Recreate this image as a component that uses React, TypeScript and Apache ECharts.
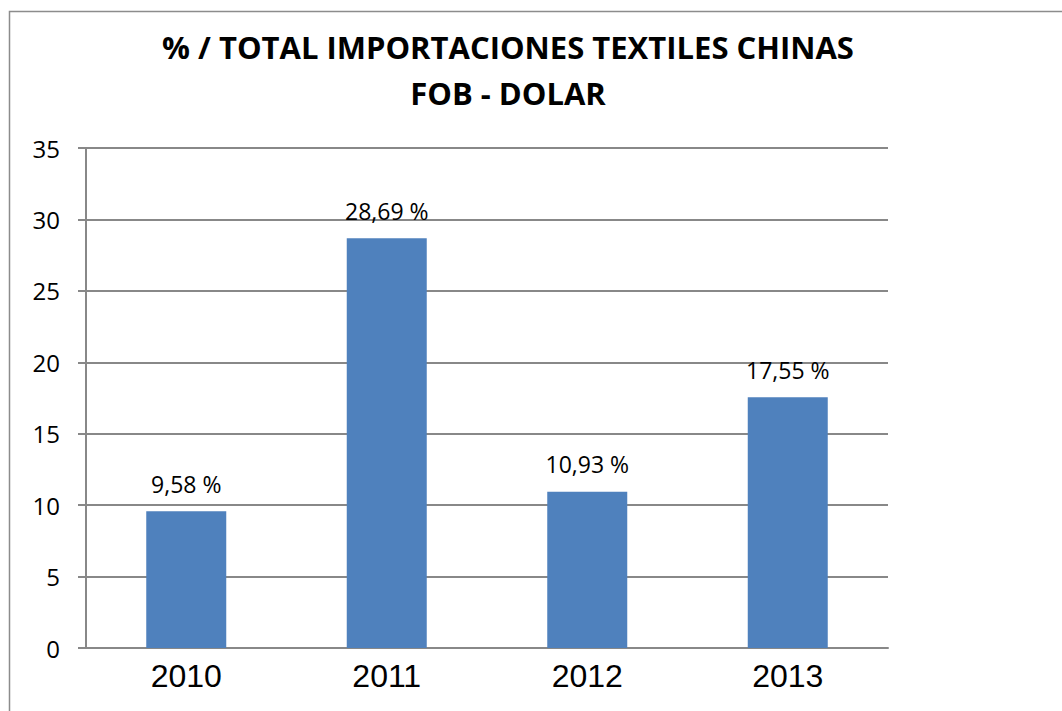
import React, { useEffect, useRef } from "react";
import * as echarts from "echarts";

const categories = ["2010", "2011", "2012", "2013"];
const values = [9.58, 28.69, 10.93, 17.55];
const titleLines = ["% / TOTAL IMPORTACIONES TEXTILES CHINAS", "FOB - DOLAR"];

export default function App() {
  const ref = useRef<HTMLDivElement>(null);
  useEffect(() => {
    if (!ref.current) return;
    const chart = echarts.init(ref.current, null, { renderer: "svg" });
    chart.setOption({
      animation: false,
      backgroundColor: "#ffffff",
      title: {
        text: titleLines.join("\n"),
        left: 503,
        textAlign: "center",
        top: 19,
        textStyle: {
          fontFamily: "Open Sans",
          fontWeight: "bold",
          fontSize: 31,
          lineHeight: 46,
          color: "#000",
        },
      },
      graphic: [
        {
          type: "rect",
          shape: { x: 9.5, y: 11.5, width: 1100, height: 800 },
          style: { fill: "none", stroke: "#8c8c8c", lineWidth: 1.5 },
          silent: true,
          z: -1,
        },
      ],
      grid: { left: 86, right: 174, top: 148, bottom: 63, containLabel: false },
      xAxis: {
        type: "category",
        data: categories,
        axisLine: { show: true, lineStyle: { color: "#888", width: 2 } },
        axisTick: { show: false },
        axisLabel: {
          fontFamily: "Liberation Sans",
          fontSize: 32,
          color: "#000",
          margin: 12,
        },
      },
      yAxis: {
        type: "value",
        min: 0,
        max: 35,
        interval: 5,
        axisLine: { show: true, lineStyle: { color: "#888", width: 2 } },
        axisTick: { show: true, length: 8, lineStyle: { color: "#888", width: 2 } },
        axisLabel: {
          fontFamily: "Open Sans",
          fontSize: 24,
          color: "#000",
          margin: 26,
        },
        splitLine: { show: true, lineStyle: { color: "#888", width: 2 } },
      },
      series: [
        {
          type: "bar",
          data: values,
          barWidth: 80,
          itemStyle: { color: "#4F81BD" },
          label: {
            show: true,
            position: "top",
            distance: 16,
            formatter: (p: any) => p.value.toFixed(2).replace(".", ",") + " %",
            fontFamily: "Open Sans",
            fontSize: 23,
            color: "#000",
          },
        },
      ],
    });
    return () => chart.dispose();
  }, []);
  return (
    <div
      ref={ref}
      style={{ position: "fixed", left: 0, top: 0, width: 1062, height: 711 }}
    />
  );
}
